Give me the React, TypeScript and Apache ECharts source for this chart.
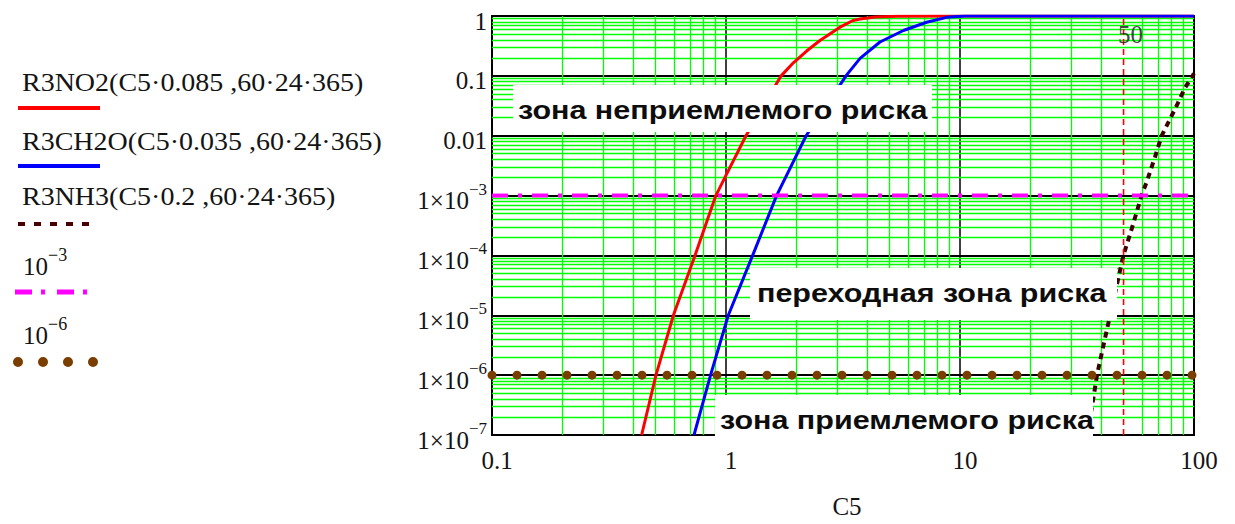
import React, { useEffect, useRef } from 'react';
import * as echarts from 'echarts';

// ---- data ----
const xNO2 = [0.436, 0.502, 0.596, 0.737, 0.905, 1.007, 1.217, 1.72, 1.94, 2.21, 2.52, 3.07, 3.49, 3.74, 4.33, 5.4, 10, 100];
const yNO2 = [1e-7, 1e-6, 1e-5, 1e-4, 1e-3, 2.3e-3, 0.01, 0.1, 0.165, 0.26, 0.39, 0.65, 0.84, 0.89, 0.96, 0.995, 1, 1];

const xCH2O = [0.73, 0.859, 1.023, 1.3, 1.645, 2.2, 3.28, 3.74, 4.55, 5.73, 7.2, 8.77, 10.5, 100];
const yCH2O = [1e-7, 1e-6, 1e-5, 1e-4, 1e-3, 0.01, 0.104, 0.196, 0.368, 0.573, 0.787, 0.95, 1, 1];

const xNH3 = [35.0, 37.8, 38.5, 41.7, 43.8, 49.9, 54.2, 59.7, 62.8, 68.1, 72.8, 84.4, 91.5, 98.6, 100];
const yNH3 = [1e-7, 6.3e-7, 1e-6, 4.2e-6, 1e-5, 1e-4, 2.8e-4, 1e-3, 1.7e-3, 4.4e-3, 1e-2, 3.2e-2, 6.3e-2, 0.1, 0.11];

const levelHigh = 1e-3;
const levelLow = 1e-6;
const markX = 50;
const markXLabelY = 0.49;

const xMin = 0.1;
const xMax = 100;
const yMin = 1e-7;
const yMax = 1;

const xTickExps = [-1, 0, 1, 2];
const xTickLabels = ['0.1', '1', '10', '100'];
const yTickExps = [-7, -6, -5, -4, -3, -2, -1, 0];
const yTickLabels = [
  '{m|1×10}{s|−7}', '{m|1×10}{s|−6}', '{m|1×10}{s|−5}', '{m|1×10}{s|−4}', '{m|1×10}{s|−3}',
  '0.01', '0.1', '1',
];
const minorMultipliers = [2, 3, 4, 5, 6, 7, 8, 9];
const xDecades = [0.1, 1, 10];
const yDecades = [1e-7, 1e-6, 1e-5, 1e-4, 1e-3, 1e-2, 0.1];

const legendTexts = [
  'R3NO2(C5·0.085 ,60·24·365)',
  'R3CH2O(C5·0.035 ,60·24·365)',
  'R3NH3(C5·0.2 ,60·24·365)',
];
const legendPowers = ['−3', '−6'];
const zoneTexts = ['зона неприемлемого риска', 'переходная зона риска', 'зона приемлемого риска'];
const xName = 'C5';

const SERIF = "'Liberation Serif', 'Times New Roman', serif";
const SANS = "'Liberation Sans', Arial, sans-serif";
const TXT = '#141414';

const zip = (xs: number[], ys: number[]) => xs.map((x, i) => [x, ys[i]]);

export default function App() {
  const ref = useRef<HTMLDivElement>(null);
  useEffect(() => {
    if (!ref.current) return;
    const chart = echarts.init(ref.current, undefined, { renderer: 'svg' });

    const minorLines: any[] = [];
    xDecades.forEach((d) => minorMultipliers.forEach((m) => {
      const v = d * m;
      if (Math.abs(v - markX) > 1e-9) minorLines.push({ coords: [[v, yMin], [v, yMax]] });
    }));
    yDecades.forEach((d) => minorMultipliers.forEach((m) => {
      const v = d * m;
      minorLines.push({ coords: [[xMin, v], [xMax, v]] });
    }));

    const legendGraphics: any[] = [];
    const legendY = [83, 142, 197];
    legendTexts.forEach((t, i) => {
      legendGraphics.push({
        type: 'text', x: 22, y: legendY[i], scaleX: 1.12, z: 100,
        style: { text: t, x: 0, y: 0, fill: TXT, fontSize: 25, fontFamily: SERIF, verticalAlign: 'middle', align: 'left' },
      });
    });
    legendGraphics.push(
      { type: 'line', z: 100, shape: { x1: 18, y1: 108, x2: 100, y2: 108 }, style: { stroke: '#ff0000', lineWidth: 4 } },
      { type: 'line', z: 100, shape: { x1: 18, y1: 166, x2: 100, y2: 166 }, style: { stroke: '#0000ff', lineWidth: 4 } },
      { type: 'line', z: 100, shape: { x1: 18, y1: 224, x2: 97, y2: 224 }, style: { stroke: '#4a0000', lineWidth: 4, lineDash: [7, 9] } },
      { type: 'line', z: 100, shape: { x1: 15, y1: 292, x2: 90, y2: 292 }, style: { stroke: '#ff00ff', lineWidth: 5, lineDash: [17, 9, 4, 12] } },
      { type: 'line', z: 100, shape: { x1: 18, y1: 362, x2: 96, y2: 362 }, style: { stroke: '#7a3e00', lineWidth: 10, lineCap: 'round', lineDash: [0, 25] } },
    );
    const powY = [266, 335];
    legendPowers.forEach((p, i) => {
      legendGraphics.push({
        type: 'text', x: 23, y: powY[i], z: 100,
        style: {
          text: `{m|10}{s|${p}}`, x: 0, y: 0, fill: TXT, verticalAlign: 'middle', align: 'left',
          rich: {
            m: { fontSize: 25, fontFamily: SERIF, fill: TXT, lineHeight: 40 },
            s: { fontSize: 18, fontFamily: SERIF, fill: TXT, lineHeight: 18, verticalAlign: 'top' },
          },
        },
      });
    });

    const boxes = [
      { x: 513, y: 85, w: 419, h: 47, tx: 518, ty: 110 },
      { x: 750, y: 268, w: 367, h: 52, tx: 757, ty: 293 },
      { x: 715, y: 395, w: 378, h: 46, tx: 720, ty: 420 },
    ];
    const boxGraphics: any[] = [];
    boxes.forEach((b, i) => {
      boxGraphics.push({ type: 'rect', z: 90, shape: { x: b.x, y: b.y, width: b.w, height: b.h }, style: { fill: '#ffffff' } });
      boxGraphics.push({
        type: 'text', z: 91, x: b.tx, y: b.ty, scaleX: 1.22,
        style: { text: zoneTexts[i], x: 0, y: 0, fill: '#0d0d0d', fontSize: 25, fontWeight: 'bold', fontFamily: SANS, verticalAlign: 'middle', align: 'left' },
      });
    });

    const option: any = {
      animation: false,
      grid: { left: 492, right: 41, top: 16, bottom: 82, show: true, borderColor: '#000', borderWidth: 2, backgroundColor: 'transparent' },
      xAxis: {
        type: 'log', logBase: 10, min: xMin, max: xMax,
        name: xName, nameLocation: 'middle', nameGap: 59,
        nameTextStyle: { fontSize: 25, fontFamily: SERIF, color: TXT, padding: [0, 0, 0, 8] },
        axisLine: { show: false },
        axisTick: { show: false },
        axisLabel: {
          fontSize: 25, fontFamily: SERIF, color: TXT, margin: 13, padding: [0, 0, 0, 10],
          formatter: (v: number) => {
            const i = xTickExps.indexOf(Math.round(Math.log10(v)));
            return i >= 0 ? xTickLabels[i] : '';
          },
        },
        splitLine: { show: true, lineStyle: { color: '#000', width: 1.5 } },
      },
      yAxis: {
        type: 'log', logBase: 10, min: yMin, max: yMax,
        axisLine: { show: false },
        axisTick: { show: false },
        axisLabel: {
          fontSize: 25, fontFamily: SERIF, color: TXT, margin: 5, padding: [10, 0, 0, 0],
          rich: {
            m: { fontSize: 25, fontFamily: SERIF, color: TXT, lineHeight: 40 },
            s: { fontSize: 17, fontFamily: SERIF, color: TXT, lineHeight: 17, verticalAlign: 'top' },
          },
          formatter: (v: number) => {
            const i = yTickExps.indexOf(Math.round(Math.log10(v)));
            return i >= 0 ? yTickLabels[i] : '';
          },
        },
        splitLine: { show: true, lineStyle: { color: '#000', width: 2 } },
      },
      series: [
        {
          type: 'lines', coordinateSystem: 'cartesian2d', z: 1, silent: true, polyline: false,
          lineStyle: { color: '#00ff00', width: 1.3, opacity: 1, curveness: 0 },
          data: minorLines,
        },
        {
          name: legendTexts[0], type: 'line', z: 3, data: zip(xNO2, yNO2), symbol: 'none',
          lineStyle: { color: '#ff0000', width: 3 },
        },
        {
          name: legendTexts[1], type: 'line', z: 3, data: zip(xCH2O, yCH2O), symbol: 'none',
          lineStyle: { color: '#0000ff', width: 3 },
        },
        {
          name: legendTexts[2], type: 'line', z: 3, data: zip(xNH3, yNH3), symbol: 'none',
          lineStyle: { color: '#3d0000', width: 4, type: [6, 5] },
        },
        {
          type: 'line', z: 4, data: [[xMin, levelHigh], [xMax, levelHigh]], symbol: 'none',
          lineStyle: { color: '#ff00ff', width: 4, type: [16, 10, 4, 10] },
        },
        {
          type: 'line', z: 4, clip: false, data: [[xMin, levelLow], [xMax, levelLow]], symbol: 'none',
          lineStyle: { color: '#7a3e00', width: 9, type: [0, 25], cap: 'round' },
        },
        {
          type: 'line', z: 4, data: [[markX, yMin], [markX, yMax]], symbol: 'none',
          lineStyle: { color: '#ff0000', width: 1.6, type: [6, 4] },
        },
        {
          type: 'scatter', z: 5, data: [[markX, markXLabelY]], symbolSize: 0,
          label: { show: true, position: 'inside', offset: [7, 0], formatter: String(markX), fontSize: 25, fontFamily: SERIF, color: TXT },
        },
      ],
      graphic: [...legendGraphics, ...boxGraphics],
    };
    chart.setOption(option);
    return () => chart.dispose();
  }, []);
  return <div ref={ref} style={{ position: 'fixed', left: 0, top: 0, width: 1235, height: 524, background: '#fff' }} />;
}
